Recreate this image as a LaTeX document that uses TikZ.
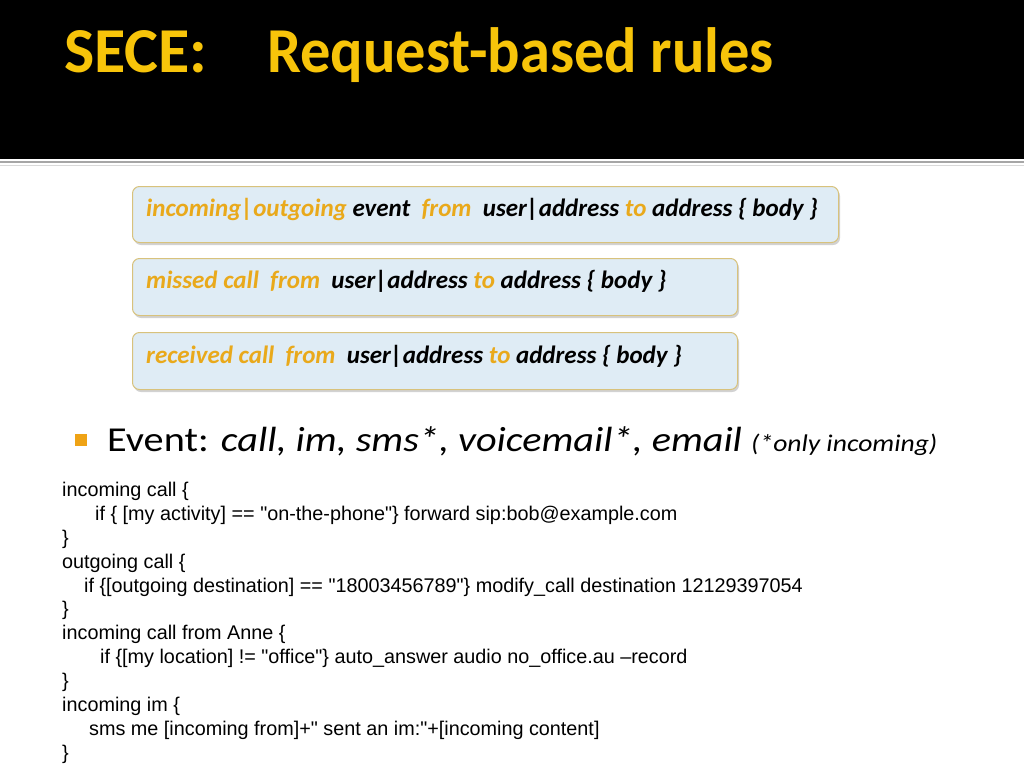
\documentclass[tikz,border=0pt]{standalone}
\usepackage{fontspec}
\setmainfont{Carlito}
\newfontfamily\codefont{Liberation Sans}
\usetikzlibrary{shadows}
\definecolor{titlegold}{HTML}{F7C40A}
\definecolor{kwgold}{HTML}{E9A91B}
\definecolor{boxfill}{HTML}{DFECF5}
\definecolor{boxline}{HTML}{D8C27C}
\definecolor{bulletor}{HTML}{EFA315}
\begin{document}
\begin{tikzpicture}[x=1pt,y=-1pt,
  rulebox/.style={draw=boxline, line width=1pt, fill=boxfill, rounded corners=7pt, inner sep=0pt, anchor=north west,
    drop shadow={opacity=0.35, shadow xshift=1.5pt, shadow yshift=-2.5pt}},
  ruletext/.style={anchor=base west, inner sep=0pt, font=\fontsize{25}{29}\selectfont\bfseries\itshape},
  titletext/.style={anchor=base west, inner sep=0pt, text=titlegold, font=\fontsize{64}{70}\selectfont\bfseries},
  codeline/.style={anchor=base west, inner sep=0pt, font=\codefont\fontsize{19.8}{23}\selectfont}]
\useasboundingbox (0,0) rectangle (1024,768);
\fill[white] (0,0) rectangle (1024,768);
\fill[black] (0,0) rectangle (1024,159);
\draw[gray!70, line width=2pt] (0,162) -- (1024,162);
\draw[gray!30, line width=1pt] (0,165.5) -- (1024,165.5);
\node[titletext] (title1) at (64,72) {SECE:};
\node[titletext] (title2) at (267,72) {\scalebox{0.945}[1]{Request-based rules}};

\node[rulebox, minimum width=706pt, minimum height=56pt] (box1) at (132,186) {};
\node[rulebox, minimum width=605pt, minimum height=57pt] (box2) at (132,258) {};
\node[rulebox, minimum width=605pt, minimum height=57pt] (box3) at (132,332) {};

\node[ruletext] (t1) at (146,216) {\textcolor{kwgold}{incoming|outgoing} event \ \textcolor{kwgold}{from} \ user|address \textcolor{kwgold}{to} address \{ body \}};
\node[ruletext] (t2) at (146,288) {\textcolor{kwgold}{missed call \ from} \ user|address \textcolor{kwgold}{to} address \{ body \}};
\node[ruletext] (t3) at (146,363) {\textcolor{kwgold}{received call \ from} \ user|address \textcolor{kwgold}{to} address \{ body \}};

\node[fill=bulletor, minimum size=12pt, inner sep=0pt, anchor=north west] (bullet) at (75,434) {};
\node[anchor=base west, inner sep=0pt, font=\fontsize{35}{40}\selectfont] (event) at (107,451) {\scalebox{1.15}[1]{Event: \textit{call, im, sms*, voicemail*, email} {\fontsize{24}{28}\selectfont\textit{(*only incoming)}}}};

\node[codeline] (c1) at (62,496) {incoming call \{};
\node[codeline] (c2) at (95,520) {if \{ [my activity] == "on-the-phone"\} forward sip:bob@example.com};
\node[codeline] (c3) at (62,544) {\}};
\node[codeline] (c4) at (62,568) {outgoing call \{};
\node[codeline] (c5) at (84,592) {if \{[outgoing destination] == "18003456789"\} modify\_call destination 12129397054};
\node[codeline] (c6) at (62,615) {\}};
\node[codeline] (c7) at (62,639) {incoming call from Anne \{};
\node[codeline] (c8) at (100,663) {if \{[my location] != "office"\} auto\_answer audio no\_office.au –record};
\node[codeline] (c9) at (62,687) {\}};
\node[codeline] (c10) at (62,711) {incoming im \{};
\node[codeline] (c11) at (89,735) {sms me [incoming from]+" sent an im:"+[incoming content]};
\node[codeline] (c12) at (62,759) {\}};
\end{tikzpicture}
\end{document}
